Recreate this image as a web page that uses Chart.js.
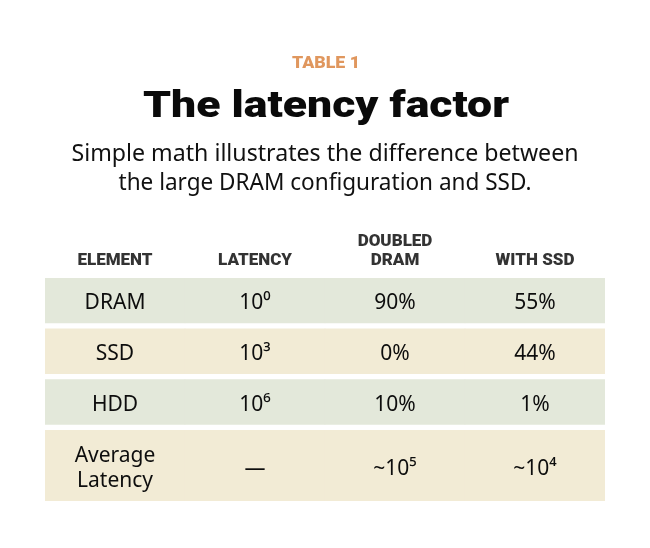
<!DOCTYPE html>
<html><head><meta charset="utf-8">
<script src="https://cdn.jsdelivr.net/npm/chart.js@4.4.1/dist/chart.umd.min.js"></script>
<style>html,body{margin:0;padding:0;background:#fff}canvas{display:block}</style>
</head><body>
<canvas id="c" width="650" height="548"></canvas>
<script>
// ---- data ----
const kicker = 'TABLE 1';
const title = 'The latency factor';
const subtitle = ['Simple math illustrates the difference between', 'the large DRAM configuration and SSD.'];
const columnHeaders = ['ELEMENT', 'LATENCY', ['DOUBLED', 'DRAM'], 'WITH SSD'];
const elements = ['DRAM', 'SSD', 'HDD', ['Average', 'Latency']];
const latency = ['10⁰', '10³', '10⁶', '—'];
const doubledDram = ['90%', '0%', '10%', '~10⁵'];
const withSsd = ['55%', '44%', '1%', '~10⁴'];

// ---- layout / style ----
const ROW_PAD = 19, LINE_H = 26, ROW_GAP = 6, CELL_LINE = 25, CELL_DY = 3;
const ROW_COLORS = ['#e3e8da', '#f2ebd5'];
const columns = [elements, latency, doubledDram, withSsd];

let acc = 0;
const rowSpans = elements.map(e => {
  const lines = Array.isArray(e) ? e.length : 1;
  const h = ROW_PAD + lines * LINE_H;
  const s = acc; acc += h + ROW_GAP;
  return [s, s + h];
});
const total = acc - ROW_GAP;

function fitText(ctx, text, x, y, font, color, targetW) {
  ctx.save();
  ctx.font = font;
  const w = ctx.measureText(text).width;
  ctx.translate(x, y);
  ctx.scale(targetW / w, 1);
  ctx.fillStyle = color;
  ctx.textAlign = 'center';
  ctx.textBaseline = 'alphabetic';
  ctx.fillText(text, 0, 0);
  ctx.restore();
}

const headingPlugin = {
  id: 'heading',
  afterDraw(chart) {
    const ctx = chart.ctx;
    const cx = chart.width / 2;
    fitText(ctx, kicker, cx + 1, 68, '900 16px Roboto', '#e0975e', 68);
    fitText(ctx, title, cx + 1, 117, '900 36px Roboto', '#0a0a0a', 366);
    fitText(ctx, subtitle[0], cx, 161, '24px "Noto Sans"', '#111', 507);
    fitText(ctx, subtitle[1], cx, 190, '24px "Noto Sans"', '#111', 413);
  }
};

const cellPlugin = {
  id: 'cells',
  afterDatasetsDraw(chart) {
    const ctx = chart.ctx;
    const xs = chart.scales.x, ys = chart.scales.y;
    ctx.save();
    ctx.font = '21px "Noto Sans"';
    ctx.fillStyle = '#0d0d0d';
    ctx.textAlign = 'center';
    ctx.textBaseline = 'middle';
    rowSpans.forEach((span, i) => {
      const yc = ys.getPixelForValue((span[0] + span[1]) / 2) + CELL_DY;
      columns.forEach((col, j) => {
        const x = xs.getPixelForValue(j);
        const v = col[i];
        const lines = Array.isArray(v) ? v : [v];
        lines.forEach((t, k) => {
          ctx.fillText(t, x, yc + (k - (lines.length - 1) / 2) * CELL_LINE);
        });
      });
    });
    ctx.restore();
  }
};

new Chart(document.getElementById('c'), {
  type: 'bar',
  data: {
    labels: columnHeaders,
    datasets: elements.map((e, i) => ({
      label: Array.isArray(e) ? e.join(' ') : e,
      data: columnHeaders.map(() => rowSpans[i]),
      backgroundColor: ROW_COLORS[i % 2],
      borderWidth: 0,
      grouped: false,
      barPercentage: 1,
      categoryPercentage: 1
    }))
  },
  options: {
    responsive: false,
    animation: false,
    layout: { padding: { left: 45, right: 45, top: 224.6, bottom: 47 } },
    plugins: { legend: { display: false }, tooltip: { enabled: false }, title: { display: false } },
    scales: {
      x: {
        position: 'top',
        grid: { display: false, drawTicks: false },
        border: { display: false },
        ticks: {
          color: '#333',
          font: { family: 'Roboto', weight: '900', size: 17, lineHeight: 1.1 },
          padding: 8, maxRotation: 0, autoSkip: false
        }
      },
      y: { display: false, reverse: true, min: 0, max: total }
    }
  },
  plugins: [headingPlugin, cellPlugin]
});
</script>
</body></html>
